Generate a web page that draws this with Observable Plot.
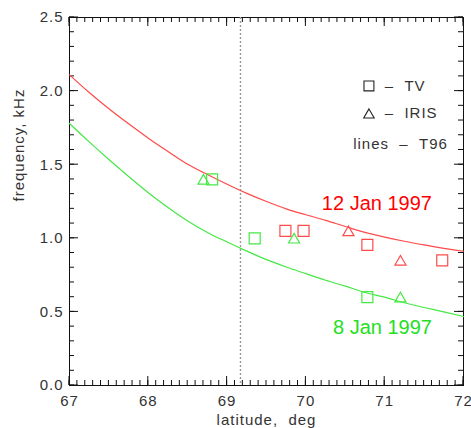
<!DOCTYPE html>
<html>
<head>
<meta charset="utf-8">
<script src="https://cdn.jsdelivr.net/npm/d3@7"></script>
<script src="https://cdn.jsdelivr.net/npm/@observablehq/plot@0.6"></script>
</head>
<body style="margin:0;padding:0;background:#fff">
<div id="chart"></div>
<script>
// T96 model frequency curves (kHz) sampled along latitude (deg)
const modelLatitude = [67, 67.25, 67.5, 67.75, 68, 68.25, 68.5, 68.75, 69, 69.25, 69.5,
                       69.75, 70, 70.25, 70.5, 70.75, 71, 71.25, 71.5, 71.75, 72];
const t96Jan12 = [2.11, 1.99, 1.88, 1.778, 1.68, 1.59, 1.503, 1.433, 1.367, 1.305, 1.25,
                  1.20, 1.16, 1.122, 1.08, 1.04, 1.008, 0.98, 0.955, 0.932, 0.912];
const t96Jan8 = [1.78, 1.655, 1.535, 1.42, 1.31, 1.21, 1.118, 1.04, 0.975, 0.913, 0.855,
                 0.805, 0.76, 0.715, 0.675, 0.632, 0.60, 0.562, 0.53, 0.50, 0.469];

// Observed frequencies: TV (squares) and IRIS (triangles)
const tvJan12Lat = [69.74, 69.97, 70.78, 71.73];
const tvJan12Freq = [1.05, 1.05, 0.955, 0.85];
const irisJan12Lat = [70.54, 71.2];
const irisJan12Freq = [1.05, 0.85];
const tvJan8Lat = [68.81, 69.35, 70.78];
const tvJan8Freq = [1.40, 1.00, 0.60];
const irisJan8Lat = [68.70, 69.85, 71.2];
const irisJan8Freq = [1.40, 1.00, 0.60];

// Reference latitude marked by the dotted line
const markedLatitude = [69.17];

// Tick values
const xMajor = [67, 68, 69, 70, 71, 72];
const xMinor = d3.range(670, 721).map(d => d / 10);
const yMajor = [0, 0.5, 1.0, 1.5, 2.0, 2.5];
const yMinor = d3.range(0, 26).map(d => d / 10);

const W = 471, H = 428;
const mL = 69, mR = 8, mT = 17, mB = 43;
const innerW = W - mL - mR, innerH = H - mT - mB;
const xDomain = [67, 72], yDomain = [0, 2.5];
// tick lengths and thickness in pixels, converted to data units
const majorLen = 9, minorLen = 5, tickW = 1;
const pxX = (xDomain[1] - xDomain[0]) / innerW;
const pxY = (yDomain[1] - yDomain[0]) / innerH;

const RED = "#ff4a4a", GREEN = "#45e845";

const rows = (lat, f) => lat.map((x, i) => ({x, y: f[i]}));

// inward ticks drawn as thin filled rectangles
const hw = tickW / 2;
const bottomTicks = (vals, len) => Plot.rect(vals, {x1: d => d - hw * pxX, x2: d => d + hw * pxX, y1: yDomain[0], y2: yDomain[0] + len * pxY, fill: "#111"});
const topTicks = (vals, len) => Plot.rect(vals, {x1: d => d - hw * pxX, x2: d => d + hw * pxX, y1: yDomain[1] - len * pxY, y2: yDomain[1], fill: "#111"});
const leftTicks = (vals, len) => Plot.rect(vals, {y1: d => d - hw * pxY, y2: d => d + hw * pxY, x1: xDomain[0], x2: xDomain[0] + len * pxX, fill: "#111"});
const rightTicks = (vals, len) => Plot.rect(vals, {y1: d => d - hw * pxY, y2: d => d + hw * pxY, x1: xDomain[1] - len * pxX, x2: xDomain[1], fill: "#111"});

const chart = Plot.plot({
  width: W, height: H,
  marginLeft: mL, marginRight: mR, marginTop: mT, marginBottom: mB,
  style: {fontFamily: "'Liberation Sans', Arial, sans-serif", fontSize: "15px", letterSpacing: "1px", color: "#333", background: "white", overflow: "visible", display: "block"},
  x: {domain: xDomain},
  y: {domain: yDomain},
  marks: [
    // inward ticks on all four sides
    bottomTicks(xMinor, minorLen), bottomTicks(xMajor, majorLen),
    topTicks(xMinor, minorLen), topTicks(xMajor, majorLen),
    leftTicks(yMinor, minorLen), leftTicks(yMajor, majorLen),
    rightTicks(yMinor, minorLen), rightTicks(yMajor, majorLen),
    Plot.frame({stroke: "#111"}),

    // tick labels
    Plot.axisX(xMajor, {tickSize: 0, tickPadding: 10, tickFormat: d3.format("d"), label: null}),
    Plot.axisY(yMajor, {tickSize: 0, tickPadding: 6, tickFormat: d3.format(".1f"), label: null}),

    // dotted reference latitude
    Plot.ruleX(markedLatitude, {x: d => d, stroke: "#9a9a9a", strokeWidth: 1.4, strokeDasharray: "2,2"}),

    // model curves
    Plot.line(rows(modelLatitude, t96Jan12), {x: "x", y: "y", stroke: RED, strokeWidth: 1.2, curve: "monotone-x"}),
    Plot.line(rows(modelLatitude, t96Jan8), {x: "x", y: "y", stroke: GREEN, strokeWidth: 1.2, curve: "monotone-x"}),

    // observations
    Plot.dot(rows(tvJan12Lat, tvJan12Freq), {x: "x", y: "y", symbol: "square", r: 6.2, stroke: RED, strokeWidth: 1.2}),
    Plot.dot(rows(irisJan12Lat, irisJan12Freq), {x: "x", y: "y", symbol: "triangle", r: 4.1, dy: 1.5, stroke: RED, strokeWidth: 1.2}),
    Plot.dot(rows(tvJan8Lat, tvJan8Freq), {x: "x", y: "y", symbol: "square", r: 6.2, stroke: GREEN, strokeWidth: 1.2}),
    Plot.dot(rows(irisJan8Lat, irisJan8Freq), {x: "x", y: "y", symbol: "triangle", r: 4.1, dy: 1.5, stroke: GREEN, strokeWidth: 1.2}),

    // axis titles
    Plot.text(["latitude,\u00a0\u00a0deg"], {text: d => d, frameAnchor: "bottom", dy: 35, lineAnchor: "middle", fill: "#333"}),
    Plot.text(["frequency,\u00a0kHz"], {text: d => d, frameAnchor: "left", dx: -50, rotate: -90, lineAnchor: "middle", fill: "#333"}),

    // key
    Plot.dot([{x: 70.80, y: 2.035}], {x: "x", y: "y", symbol: "square", r: 5.6, stroke: "#222", strokeWidth: 1.1}),
    Plot.dot([{x: 70.80, y: 1.848}], {x: "x", y: "y", symbol: "triangle", r: 3.9, dy: 1.5, stroke: "#222", strokeWidth: 1.1}),
    Plot.text([{x: 71.0, y: 2.035, t: "\u2013\u00a0\u00a0TV"}], {x: "x", y: "y", text: "t", textAnchor: "start", fill: "#333"}),
    Plot.text([{x: 71.0, y: 1.848, t: "\u2013\u00a0\u00a0IRIS"}], {x: "x", y: "y", text: "t", textAnchor: "start", fill: "#333"}),
    Plot.text([{x: 70.60, y: 1.637, t: "lines\u00a0\u00a0\u2013\u00a0\u00a0T96"}], {x: "x", y: "y", text: "t", textAnchor: "start", fill: "#333"}),

    // curve dates
    Plot.text([{x: 71.6, y: 1.233, t: "12 Jan 1997"}], {x: "x", y: "y", text: "t", textAnchor: "end", fontSize: 20, fill: "#ff0000"}),
    Plot.text([{x: 71.6, y: 0.39, t: "8 Jan 1997"}], {x: "x", y: "y", text: "t", textAnchor: "end", fontSize: 20, fill: "#22e022"})
  ]
});

// the date labels use normal letter spacing
chart.querySelectorAll('g[font-size="20"] text').forEach(t => t.style.letterSpacing = "0");

document.getElementById("chart").appendChild(chart);
</script>
</body>
</html>
